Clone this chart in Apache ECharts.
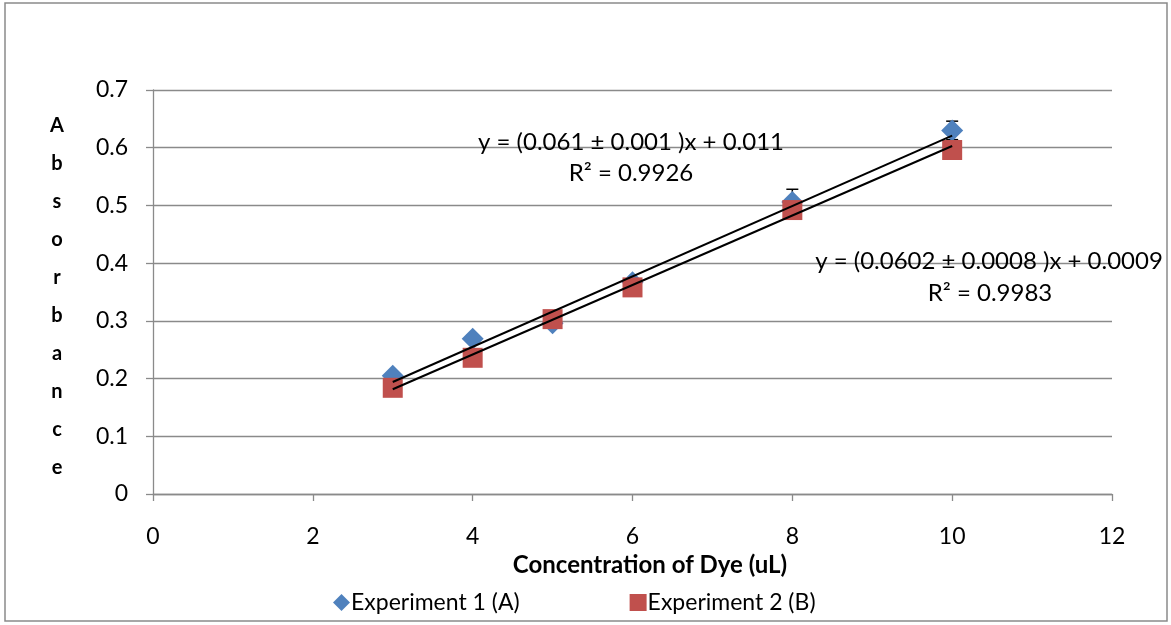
<!DOCTYPE html>
<html>
<head>
<meta charset="utf-8">
<script src="https://cdn.jsdelivr.net/npm/echarts@6/dist/echarts.min.js"></script>
<style>html,body{margin:0;padding:0;background:#fff;}#c{width:1171px;height:625px;}</style>
</head>
<body>
<div id="c"></div>
<script>
const concentrations = [3, 4, 5, 6, 8, 10];
const exp1Values = [0.205, 0.269, 0.296, 0.367, 0.506, 0.630];
const exp1Errors = [0.004, 0.006, 0.004, 0.005, 0.022, 0.016];
const exp2Values = [0.184, 0.236, 0.303, 0.358, 0.492, 0.596];
const fit1 = { slope: 0.061, intercept: 0.011 };
const fit2 = { slope: 0.0602, intercept: 0.0009 };
const fitRange = [3, 10];
const xTicks = { min: 0, max: 12, interval: 2 };
const yTicks = { min: 0, max: 0.7, interval: 0.1 };
const seriesNames = ['Experiment 1 (A)', 'Experiment 2 (B)'];
const eq1Text = ['y = (0.061 ± 0.001 )x + 0.011', 'R² = 0.9926'];
const eq2Text = ['y = (0.0602 ± 0.0008 )x + 0.0009', 'R² = 0.9983'];
const yTitle = 'Absorbance';
const xTitle = 'Concentration of Dye (uL)';

const FONT = 'Lato, "Open Sans", sans-serif';
const GREY = '#8a8a8a';
const pts = (ys) => concentrations.map((x, i) => [x, ys[i]]);
const fitLine = (f) => fitRange.map(x => [x, +(f.slope * x + f.intercept).toFixed(5)]);
const errData = concentrations.map((x, i) => [x, exp1Values[i] - exp1Errors[i], exp1Values[i] + exp1Errors[i]]);

const chart = echarts.init(document.getElementById('c'), null, { renderer: 'canvas' });
chart.setOption({
  animation: false,
  backgroundColor: '#fff',
  textStyle: { fontFamily: FONT },
  grid: { left: 153, right: 59, top: 90, bottom: 131 },
  xAxis: {
    type: 'value', min: xTicks.min, max: xTicks.max, interval: xTicks.interval,
    axisLine: { show: true, onZero: false, lineStyle: { color: GREY, width: 1.3 } },
    axisTick: { show: true, inside: false, length: 7, lineStyle: { color: GREY, width: 1.3 } },
    axisLabel: { color: '#000', fontSize: 23, fontFamily: FONT, margin: 31 },
    splitLine: { show: false }
  },
  yAxis: {
    type: 'value', min: yTicks.min, max: yTicks.max, interval: yTicks.interval,
    axisLine: { show: true, lineStyle: { color: GREY, width: 1.3 } },
    axisTick: { show: true, inside: false, length: 7, lineStyle: { color: GREY, width: 1.3 } },
    axisLabel: { color: '#000', fontSize: 23, fontFamily: FONT, margin: 25,
      formatter: v => (Math.round(v * 10) / 10).toString() },
    splitLine: { show: true, lineStyle: { color: GREY, width: 1.3 } }
  },
  legend: {
    bottom: 6, left: 328, itemGap: 110, itemWidth: 17, itemHeight: 17,
    textStyle: { fontSize: 23, color: '#000', fontFamily: FONT, padding: [0, 0, 0, -4] },
    data: [
      { name: seriesNames[0], icon: 'diamond' },
      { name: seriesNames[1], icon: 'rect' }
    ]
  },
  series: [
    {
      type: 'custom', name: 'err', z: 1, silent: true,
      data: errData,
      renderItem: (params, api) => {
        const lo = api.coord([api.value(0), api.value(1)]);
        const hi = api.coord([api.value(0), api.value(2)]);
        const w = 6;
        const st = { stroke: '#000', lineWidth: 1.5 };
        return { type: 'group', children: [
          { type: 'line', shape: { x1: hi[0], y1: hi[1], x2: lo[0], y2: lo[1] }, style: st },
          { type: 'line', shape: { x1: hi[0] - w, y1: hi[1], x2: hi[0] + w, y2: hi[1] }, style: st },
          { type: 'line', shape: { x1: lo[0] - w, y1: lo[1], x2: lo[0] + w, y2: lo[1] }, style: st }
        ] };
      }
    },
    {
      type: 'scatter', name: seriesNames[0], z: 2, symbol: 'diamond', symbolSize: 22,
      itemStyle: { color: '#4F81BD', opacity: 1 }, data: pts(exp1Values)
    },
    {
      type: 'scatter', name: seriesNames[1], z: 3, symbol: 'rect', symbolSize: 20,
      itemStyle: { color: '#C0504D', opacity: 1 }, data: pts(exp2Values)
    },
    {
      type: 'line', name: 'fit1', z: 4, showSymbol: false, symbol: 'none', silent: true,
      lineStyle: { color: '#000', width: 2 }, data: fitLine(fit1)
    },
    {
      type: 'line', name: 'fit2', z: 4, showSymbol: false, symbol: 'none', silent: true,
      lineStyle: { color: '#000', width: 2 }, data: fitLine(fit2)
    }
  ],
  graphic: [
    { type: 'rect', z: -10, shape: { x: 5, y: 3, width: 1162, height: 618 },
      style: { fill: 'none', stroke: GREY, lineWidth: 1.5 } },
    { type: 'text', z: 10,
      style: { text: eq1Text[0], x: 631, y: 142, align: 'center', verticalAlign: 'middle', font: '24px ' + FONT, fill: '#000' } },
    { type: 'text', z: 10,
      style: { text: eq1Text[1], x: 631, y: 173, align: 'center', verticalAlign: 'middle', font: '24px ' + FONT, fill: '#000' } },
    { type: 'text', z: 10,
      style: { text: eq2Text[0], x: 989, y: 261, align: 'center', verticalAlign: 'middle', font: '24px ' + FONT, fill: '#000' } },
    { type: 'text', z: 10,
      style: { text: eq2Text[1], x: 990, y: 293, align: 'center', verticalAlign: 'middle', font: '24px ' + FONT, fill: '#000' } },
    { type: 'text', z: 10,
      style: { text: yTitle.split('').join('\n'), x: 57, y: 297, align: 'center', verticalAlign: 'middle',
        font: 'bold 20px ' + FONT, lineHeight: 38, fill: '#000' } },
    { type: 'text', z: 10,
      style: { text: xTitle, x: 650, y: 565, align: 'center', verticalAlign: 'middle', font: 'bold 24px ' + FONT, fill: '#000' } }
  ]
});
</script>
</body>
</html>
